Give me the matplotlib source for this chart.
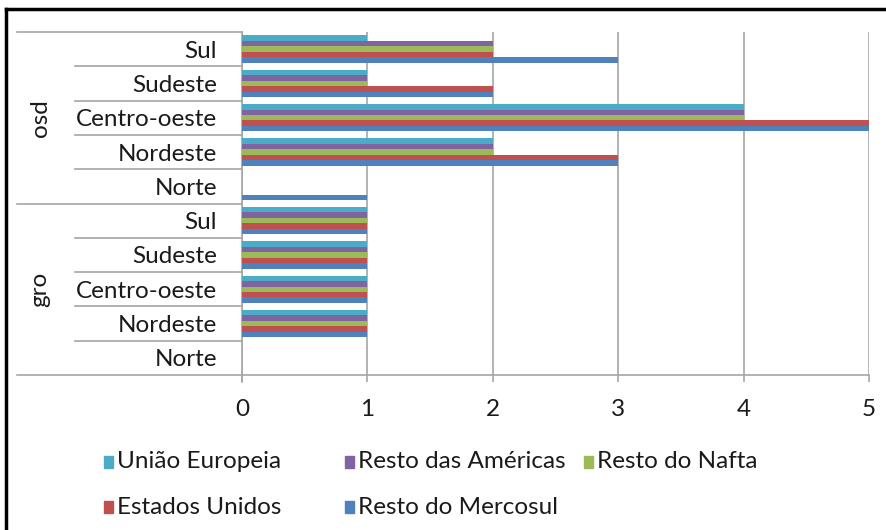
import matplotlib.pyplot as plt
from matplotlib.patches import Rectangle
from matplotlib.lines import Line2D
import numpy as np

# categories from top to bottom
groups = ["osd", "gro"]
regions = ["Sul", "Sudeste", "Centro-oeste", "Nordeste", "Norte"]

series = ["União Europeia", "Resto das Américas", "Resto do Nafta",
          "Estados Unidos", "Resto do Mercosul"]
colors = ["#4BACC6", "#8064A2", "#9BBB59", "#C0504D", "#4F81BD"]

# values per series, order: osd Sul..Norte, gro Sul..Norte
uniao_europeia = [1, 1, 4, 2, 0, 1, 1, 1, 1, 0]
resto_americas = [2, 1, 4, 2, 0, 1, 1, 1, 1, 0]
resto_nafta = [2, 1, 4, 2, 0, 1, 1, 1, 1, 0]
estados_unidos = [2, 2, 5, 3, 0, 1, 1, 1, 1, 0]
resto_mercosul = [3, 2, 5, 3, 1, 1, 1, 1, 1, 0]
values = [uniao_europeia, resto_americas, resto_nafta, estados_unidos, resto_mercosul]

FONT = "Lato"
FS = 17.5
GRAY = "#A6A6A6"
TXT = "#1a1a1a"

W, H = 886, 530
fig = plt.figure(figsize=(W / 100, H / 100), dpi=100)

def px(x, y):
    return x / W, 1 - y / H

ax_l, ax_r, ax_t, ax_b = 242, 869, 32, 375
ax = fig.add_axes([ax_l / W, 1 - ax_b / H, (ax_r - ax_l) / W, (ax_b - ax_t) / H])

n = len(groups) * len(regions)
pos = np.arange(n)
h = 0.16
for k, (vals, c) in enumerate(zip(values, colors)):
    ax.barh(pos + (k - 2) * h, vals, height=h, color=c, linewidth=0,
            label=series[k], zorder=3)

ax.set_xlim(0, 5)
ax.set_ylim(n - 0.5, -0.5)
ax.set_xticks(range(6))
ax.xaxis.grid(True, color=GRAY, linewidth=1.2, zorder=0)
for s in ["top", "right"]:
    ax.spines[s].set_visible(False)
for s in ["left", "bottom"]:
    ax.spines[s].set_color(GRAY)
    ax.spines[s].set_linewidth(1.2)
ax.tick_params(axis="x", length=5, width=1.2, color=GRAY, pad=12,
               labelsize=FS, labelcolor=TXT)
ax.set_yticks(pos)
ax.set_yticklabels(regions * len(groups))
ax.tick_params(axis="y", length=0, pad=18, labelsize=FS, labelcolor=TXT)
for lab in ax.get_xticklabels() + ax.get_yticklabels():
    lab.set_fontfamily(FONT)

ax.plot([0, 0], [n - 0.5, n - 0.3], color=GRAY, lw=1.2, clip_on=False)

# category separators on the left
trans = ax.get_yaxis_transform()
x_cat = (75 - ax_l) / (ax_r - ax_l)
x_grp = (17 - ax_l) / (ax_r - ax_l)
for b in range(n + 1):
    edge = b - 0.5
    x0 = x_grp if b % len(regions) == 0 else x_cat
    ax.plot([x0, 0], [edge, edge], transform=trans, color=GRAY, lw=1.2,
            clip_on=False)

# group labels
x_lab = (40 - ax_l) / (ax_r - ax_l)
for g, name in enumerate(groups):
    ax.text(x_lab, g * len(regions) + (len(regions) - 1) / 2, name,
            transform=trans, rotation=90, ha="center", va="center",
            fontsize=FS, family=FONT, color=TXT)

# legend, drawn like the original (three columns, two rows)
leg_pos = [(104, 462), (345, 462), (584, 462), (104, 507), (345, 507)]
for (lx, ly), name, c in zip(leg_pos, series, colors):
    x0, y0 = px(lx, ly + 6)
    fig.add_artist(Rectangle((x0, y0), 9 / W, 12 / H, color=c,
                             transform=fig.transFigure))
    tx, ty = px(lx + 13, ly)
    fig.text(tx, ty, name, ha="left", va="center", fontsize=FS, family=FONT,
             color=TXT)

# frame
fig.add_artist(Line2D([6 / W, 6 / W], [0, 1 - 9 / H], color="black", lw=2.5,
                      transform=fig.transFigure))
fig.add_artist(Line2D([6 / W, 1], [1 - 9 / H, 1 - 9 / H], color="black", lw=2.5,
                      transform=fig.transFigure))

fig.savefig("out.png", dpi=100, facecolor="white")
